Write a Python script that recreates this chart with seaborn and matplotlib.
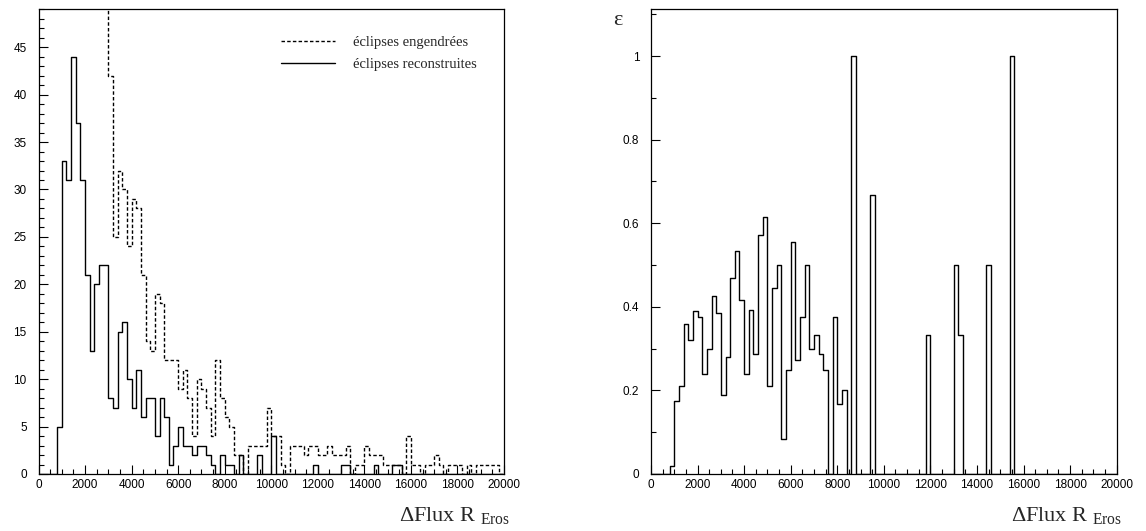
import numpy as np
import pandas as pd
import matplotlib
matplotlib.use("Agg")
import matplotlib.pyplot as plt
from matplotlib.lines import Line2D
from matplotlib.ticker import MultipleLocator, FuncFormatter
from matplotlib import font_manager
import seaborn as sns

# bins of 200 in Delta Flux, from 0 to 20000
bin_width = 200
flux_range = (0, 20000)
bin_centers = np.arange(100, 20000, bin_width)

# eclipses engendrees (dashed), counts per bin
generated = [
    60, 120, 200, 260, 250, 189, 148, 122, 116, 79,
    56, 54, 67, 52, 57, 42, 25, 32, 30, 24,
    29, 28, 21, 14, 13, 19, 18, 12, 12, 12,
    9, 11, 8, 4, 10, 9, 7, 4, 12, 8,
    6, 5, 2, 2, 0, 3, 3, 3, 3, 7,
    4, 4, 1, 0, 3, 3, 3, 2, 3, 3,
    2, 2, 3, 2, 2, 2, 3, 0, 1, 1,
    3, 2, 2, 2, 1, 1, 1, 1, 0, 4,
    1, 1, 0, 1, 1, 2, 1, 0, 1, 1,
    1, 0, 1, 0, 1, 1, 1, 1, 1, 0,
]

# eclipses reconstruites (solid), counts per bin
reconstructed = [
    0, 0, 0, 0, 5, 33, 31, 44, 37, 31,
    21, 13, 20, 22, 22, 8, 7, 15, 16, 10,
    7, 11, 6, 8, 8, 4, 8, 6, 1, 3,
    5, 3, 3, 2, 3, 3, 2, 1, 0, 2,
    1, 1, 0, 2, 0, 0, 0, 2, 0, 0,
    4, 0, 0, 0, 0, 0, 0, 0, 0, 1,
    0, 0, 0, 0, 0, 1, 1, 0, 0, 0,
    0, 0, 1, 0, 0, 0, 1, 1, 0, 0,
    0, 0, 0, 0, 0, 0, 0, 0, 0, 0,
    0, 0, 0, 0, 0, 0, 0, 0, 0, 0,
]

# efficiency epsilon per bin
efficiency = [
    0, 0, 0, 0, 0.02, 0.175, 0.21, 0.36, 0.32, 0.39,
    0.375, 0.24, 0.30, 0.425, 0.385, 0.19, 0.28, 0.47, 0.533, 0.417,
    0.24, 0.393, 0.286, 0.571, 0.615, 0.21, 0.444, 0.5, 0.083, 0.25,
    0.556, 0.273, 0.375, 0.5, 0.3, 0.333, 0.286, 0.25, 0, 0.375,
    0.167, 0.2, 0, 1.0, 0, 0, 0, 0.667, 0, 0,
    0, 0, 0, 0, 0, 0, 0, 0, 0, 0.333,
    0, 0, 0, 0, 0, 0.5, 0.333, 0, 0, 0,
    0, 0, 0.5, 0, 0, 0, 0, 1.0, 0, 0,
    0, 0, 0, 0, 0, 0, 0, 0, 0, 0,
    0, 0, 0, 0, 0, 0, 0, 0, 0, 0,
]

df = pd.DataFrame({"flux": bin_centers, "gen": generated,
                   "rec": reconstructed, "eff": efficiency})

sns.set_style("ticks")
plt.rcParams["font.family"] = ["Liberation Sans", "DejaVu Sans"]
plt.rcParams["mathtext.fontset"] = "custom"
plt.rcParams["mathtext.rm"] = "Liberation Serif"

installed = {f.name for f in font_manager.fontManager.ttflist}
narrow = "Liberation Sans Narrow" if "Liberation Sans Narrow" in installed else "Liberation Sans"

W, H = 1146, 531
fig = plt.figure(figsize=(W / 100, H / 100), dpi=100)
ax1 = fig.add_axes([38.5 / W, 57 / H, 465.5 / W, 464.7 / H])
ax2 = fig.add_axes([651 / W, 57 / H, 465.7 / W, 464.7 / H])

dash = (0, (2.5, 1.6))
hist_kw = dict(x="flux", binwidth=bin_width, binrange=flux_range,
               element="step", fill=False, color="black", linewidth=1.0)

sns.histplot(data=df, weights="gen", linestyle=dash, ax=ax1, **hist_kw)
sns.histplot(data=df, weights="rec", ax=ax1, **hist_kw)
sns.histplot(data=df, weights="eff", ax=ax2, **hist_kw)


def style_axes(ax, ymax, ymajor, yminor):
    ax.set_xlim(0, 20000)
    ax.set_ylim(0, ymax)
    ax.set_xlabel("")
    ax.set_ylabel("")
    ax.xaxis.set_major_locator(MultipleLocator(2000))
    ax.xaxis.set_minor_locator(MultipleLocator(500))
    ax.yaxis.set_major_locator(MultipleLocator(ymajor))
    ax.yaxis.set_minor_locator(MultipleLocator(yminor))
    ax.yaxis.set_major_formatter(FuncFormatter(lambda v, p: f"{v:g}"))
    ax.tick_params(which="both", direction="in", top=False, right=False,
                   width=0.8, color="black", labelcolor="black")
    ax.tick_params(which="major", length=6.2)
    ax.tick_params(which="minor", length=3.3)
    ax.tick_params(axis="y", pad=8.5, labelsize=8.5)
    ax.tick_params(axis="x", pad=3.5, labelsize=8.5)
    for lab in ax.get_xticklabels():
        lab.set_family(narrow)
    for sp in ax.spines.values():
        sp.set_visible(True)
        sp.set_linewidth(0.9)
        sp.set_color("black")


style_axes(ax1, 49, 5, 1)
style_axes(ax2, 1.112, 0.2, 0.1)

handles = [Line2D([], [], color="black", lw=1.0, linestyle=dash),
           Line2D([], [], color="black", lw=1.0)]
ax1.legend(handles, ["éclipses engendrées", "éclipses reconstruites"],
           loc="upper left", bbox_to_anchor=(0.52, 0.9425), frameon=False,
           handlelength=3.7, handletextpad=1.25, labelspacing=0.6,
           borderpad=0, borderaxespad=0,
           prop={"family": "Liberation Serif", "size": 10.5})

xlab = "ΔFlux R $_{\\mathrm{Eros}}$"
fig.text(510 / W, 1 - 521.7 / H, xlab, ha="right", va="baseline",
         family="Liberation Serif", fontsize=16)
fig.text(1122 / W, 1 - 521.7 / H, xlab, ha="right", va="baseline",
         family="Liberation Serif", fontsize=16)
fig.text(617.5 / W, 1 - 20.5 / H, "ε", ha="center", va="center",
         family="Liberation Serif", fontsize=16)

fig.savefig("out.png", dpi=100, facecolor="white")
